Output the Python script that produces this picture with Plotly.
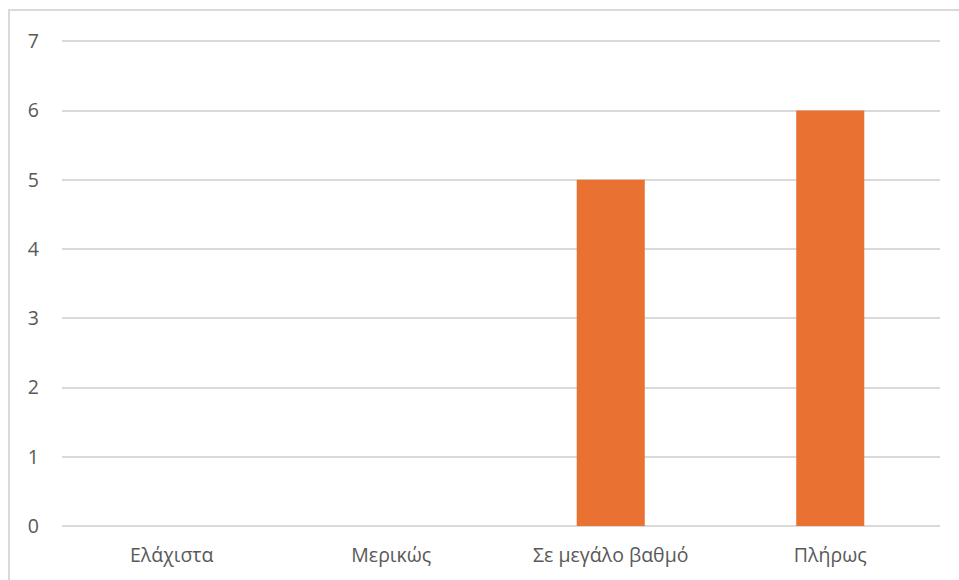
import plotly.graph_objects as go

categories = ["Ελάχιστα", "Μερικώς", "Σε μεγάλο βαθμό", "Πλήρως"]
values = [0, 0, 5, 6]
y_ticks = [0, 1, 2, 3, 4, 5, 6, 7]

W, H = 959, 580
ml, mr, mt, mb = 62, 19, 40, 54
pw = W - ml - mr
ph = H - mt - mb

FONT = "Open Sans, Roboto, sans-serif"
FS = 19.5

fig = go.Figure(go.Bar(
    x=categories, y=values,
    marker=dict(color="#E97132", line=dict(width=0)),
    hoverinfo="x+y",
))

fig.update_layout(
    width=W, height=H,
    margin=dict(l=ml, r=mr, t=mt, b=mb, pad=0),
    paper_bgcolor="white", plot_bgcolor="white",
    bargap=0.69,
    showlegend=False,
    font=dict(family=FONT, size=FS, color="#595959"),
    xaxis=dict(showgrid=False, showline=False, ticks="", zeroline=False,
               tickfont=dict(family=FONT, size=FS, color="#595959"), ticklabelstandoff=15),
    yaxis=dict(range=[0, 7.02], tickvals=y_ticks, showgrid=True, gridcolor="#D9D9D9",
               gridwidth=1.5, zeroline=True, zerolinecolor="#D9D9D9", zerolinewidth=1.5,
               showline=False, ticks="", ticklabelstandoff=22,
               tickfont=dict(family=FONT, size=FS, color="#595959")),
    shapes=[dict(type="rect", xref="paper", yref="paper",
                 x0=(9 - ml) / pw, x1=(W + 20 - ml) / pw,
                 y0=-(H + 20 - mt - ph) / ph, y1=1 + (mt - 10) / ph,
                 line=dict(color="#D9D9D9", width=2), fillcolor="rgba(0,0,0,0)",
                 layer="below")],
)

fig.write_html("out.html", config={"displayModeBar": False},
               post_script="document.body.style.margin='0px';")
